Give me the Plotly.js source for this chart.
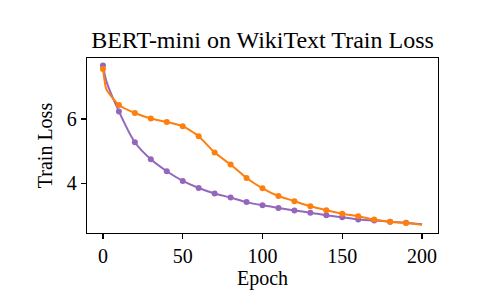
<!DOCTYPE html>
<html>
<head>
<meta charset="utf-8">
<script src="https://cdn.plot.ly/plotly-3.0.1.min.js"></script>
<style>html,body{margin:0;padding:0;background:#fff;}#chart{width:503px;height:291px;}</style>
</head>
<body>
<div id="chart"></div>
<script>
// Marker epochs (every 10)
const markerEpochs = [0,10,20,30,40,50,60,70,80,90,100,110,120,130,140,150,160,170,180,190];
const purpleMarkers = [7.67,6.24,5.28,4.75,4.38,4.08,3.86,3.69,3.56,3.42,3.32,3.24,3.16,3.09,3.01,2.95,2.88,2.85,2.81,2.78];
const orangeMarkers = [7.56,6.44,6.19,6.02,5.91,5.78,5.47,4.96,4.59,4.17,3.85,3.61,3.45,3.29,3.17,3.06,2.98,2.88,2.81,2.77];
// Line samples (including early steep drop and the end at 200)
const purpleLineEpochs = [0,2,10,20,30,40,50,60,70,80,90,100,110,120,130,140,150,160,170,180,190,200];
const purpleLine = [7.67,7.2,6.24,5.28,4.75,4.38,4.08,3.86,3.69,3.56,3.42,3.32,3.24,3.16,3.09,3.01,2.95,2.88,2.85,2.81,2.78,2.73];
const orangeLineEpochs = [0,1,2,5,10,20,30,40,50,60,70,80,90,100,110,120,130,140,150,160,170,180,190,200];
const orangeLine = [7.56,7.2,6.95,6.72,6.44,6.19,6.02,5.91,5.78,5.47,4.96,4.59,4.17,3.85,3.61,3.45,3.29,3.17,3.06,2.98,2.88,2.81,2.77,2.72];

const purple = '#9467bd', orange = '#ff7f0e';
const traces = [
  {x: purpleLineEpochs, y: purpleLine, mode: 'lines', line: {color: purple, width: 2, shape: 'spline', smoothing: 0.6}, hoverinfo: 'skip', showlegend: false},
  {x: markerEpochs, y: purpleMarkers, mode: 'markers', marker: {color: purple, size: 6}, showlegend: false},
  {x: orangeLineEpochs, y: orangeLine, mode: 'lines', line: {color: orange, width: 2, shape: 'spline', smoothing: 0.6}, hoverinfo: 'skip', showlegend: false},
  {x: markerEpochs, y: orangeMarkers, mode: 'markers', marker: {color: orange, size: 6}, showlegend: false}
];
const font = {family: '"Liberation Serif", "Times New Roman", serif', color: '#000', size: 20};
const layout = {
  width: 503, height: 291,
  margin: {l: 87, r: 65, t: 58, b: 58},
  paper_bgcolor: '#fff', plot_bgcolor: '#fff',
  font: font,
  showlegend: false,
  title: {text: 'BERT-mini on WikiText Train Loss', font: {family: font.family, size: 24, color: '#000'}, x: 0.5, xref: 'paper', y: 1 - 40/291, yref: 'container', yanchor: 'middle'},
  xaxis: {
    range: [-10, 210], tickmode: 'array', tickvals: [0,50,100,150,200], ticktext: ['0','50','100','150','200'],
    showgrid: false, zeroline: false, showline: true, mirror: true, linecolor: '#000', linewidth: 1.3,
    ticks: 'outside', ticklen: 5, tickwidth: 1.3, tickcolor: '#000',
    tickfont: {family: font.family, size: 20, color: '#000'},
    title: {text: 'Epoch', font: {family: font.family, size: 20, color: '#000'}, standoff: 4}
  },
  yaxis: {
    range: [2.46, 7.9], tickmode: 'array', tickvals: [4, 6], ticktext: ['4','6'],
    showgrid: false, zeroline: false, showline: true, mirror: true, linecolor: '#000', linewidth: 1.3,
    ticks: 'outside', ticklen: 5, tickwidth: 1.3, tickcolor: '#000',
    tickfont: {family: font.family, size: 20, color: '#000'},
    title: {text: 'Train Loss', font: {family: font.family, size: 20, color: '#000'}, standoff: 8}
  }
};
Plotly.newPlot('chart', traces, layout, {displayModeBar: false, staticPlot: true});
</script>
</body>
</html>
